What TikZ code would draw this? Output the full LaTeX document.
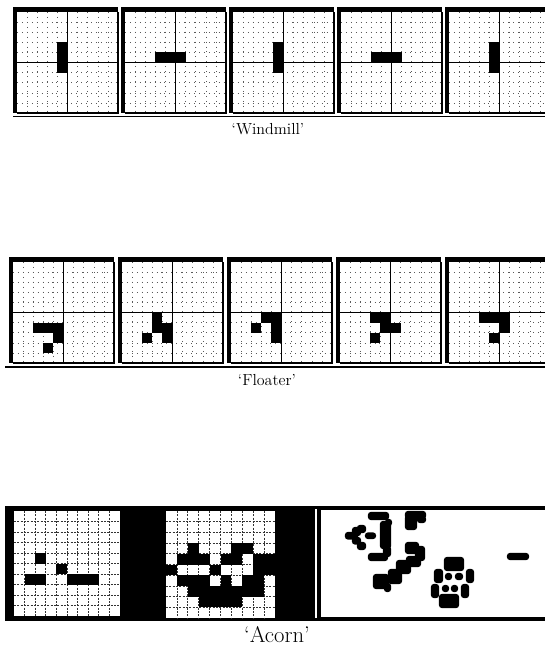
\documentclass[tikz,border=0pt]{standalone}
\usepackage{tikz}
\tikzset{
  gridline/.style={black!65, line width=0.45pt, dash pattern=on 0.5pt off 3.2pt},
  axisline/.style={black, line width=0.8pt},
  rimline/.style={black, line width=0.9pt},
  lifecell/.style={fill=black},
  acorngrid/.style={black!80, line width=0.6pt, dash pattern=on 1.5pt off 1pt},
  blob/.style={fill=black, draw=black, line width=1.6pt, rounded corners=1.5pt},
  caption/.style={font=\fontsize{12}{14}\selectfont, inner sep=0pt},
}
% one generation on a 10x10 board: x, y, cell size, list of col/row
\newcommand{\lifepanel}[4]{%
  \begin{scope}[shift={(#1,#2)}]
    \foreach \k in {1,...,9} {
      \draw[gridline] (\k*#3,0) -- (\k*#3,10*#3);
      \draw[gridline] (0,\k*#3) -- (10*#3,\k*#3);
    }
    \draw[axisline] (5*#3,0) -- (5*#3,10*#3);
    \draw[axisline] (0,5*#3) -- (10*#3,5*#3);
    \foreach \cx/\cy in {#4}
      \fill[lifecell] (\cx*#3,\cy*#3) rectangle ++(#3,#3);
    \draw[rimline] (0,10*#3) -- (10*#3,10*#3) -- (10*#3,0);
    \fill (-4,10*#3) rectangle (0,-5);
    \fill (-4,-5) rectangle (10*#3,0);
  \end{scope}}
% white board with black cells: x, y, cell width, cell height, cells
\newcommand{\acornpanel}[5]{%
  \begin{scope}[shift={(#1,#2)}]
    \fill[white] (0,0) rectangle (10*#3,10*#4);
    \foreach \k in {1,...,9} {
      \draw[acorngrid] (\k*#3,0) -- (\k*#3,10*#4);
      \draw[acorngrid] (0,\k*#4) -- (10*#3,\k*#4);
    }
    \foreach \cx/\cy in {#5}
      \fill[lifecell] (\cx*#3,\cy*#4) rectangle ++(#3,#4);
  \end{scope}}

\begin{document}
\begin{tikzpicture}[x=0.75pt, y=-0.75pt]
\useasboundingbox (0,0) rectangle (545,646);
\clip (0,0) rectangle (545,646);

% windmill
\foreach \i in {0,2,4}
  \lifepanel{17+108*\i}{12}{10.1}{4/3,4/4,4/5};
\foreach \i in {1,3}
  \lifepanel{17+108*\i}{12}{10.1}{3/4,4/4,5/4};
\draw[rimline] (13,116.5) -- (545,116.5);
\node[caption] (windmill) at (268,129) {‘Windmill’};

% floater
\lifepanel{13}{262}{10.1}{2/6,3/6,4/6,4/7,3/8}
\lifepanel{122}{262}{10.1}{3/5,3/6,4/6,2/7,4/7}
\lifepanel{231}{262}{10.1}{3/5,4/5,2/6,4/6,4/7}
\lifepanel{340}{262}{10.1}{3/5,4/5,4/6,5/6,3/7}
\lifepanel{449}{262}{10.1}{3/5,4/5,5/5,5/6,4/7}
\draw[black, line width=2pt] (5,367) -- (545,367);
\node[caption] (floater) at (267,380) {‘Floater’};

% acorn
\fill (5,506) rectangle (545,621);
\acornpanel{14}{511}{10.6}{10.5}{2/4,4/5,1/6,2/6,5/6,6/6,7/6}
\acornpanel{166}{511}{10.9}{10.7}{2/3,6/3,7/3,
  1/4,2/4,3/4,5/4,6/4,8/4,9/4,
  0/5,4/5,8/5,9/5,
  1/6,2/6,3/6,5/6,7/6,8/6,
  2/7,3/7,4/7,5/7,6/7,7/7,8/7,
  3/8,4/8,5/8,6/8}
\fill[white] (321,510) rectangle (545,617);
\draw[white, line width=0.8pt] (316,509) -- (316,618);
% later generation
\fill[blob] (358,526) rectangle (365,532);
\fill[blob] (353,528) rectangle (360,535);
\fill[blob] (346,533) rectangle (357,538.5);
\fill[blob] (353,538) rectangle (360,543.5);
\fill[blob] (358,543) rectangle (365,549);
\fill[blob] (366,533.5) rectangle (375,538);
\fill[blob] (369,513) rectangle (388,519);
\fill[blob] (381,522) rectangle (390,548);
\fill[blob] (386,520) rectangle (391,525);
\fill[blob] (369,554) rectangle (387,560);
\fill[blob] (384,547) rectangle (390,556);
\fill[blob] (406,512) rectangle (425,518);
\fill[blob] (406,516) rectangle (416,529);
\fill[blob] (418,517) rectangle (425,522);
\fill[blob] (406,543) rectangle (418,553);
\fill[blob] (416,547) rectangle (424,560);
\fill[blob] (407,557) rectangle (420,566);
\fill[blob] (397,561) rectangle (410,573);
\fill[blob] (389,570) rectangle (401,583);
\fill[blob] (374,575) rectangle (388,588);
\fill[blob] (385,584) rectangle (390,591);
\fill[blob] (445,558) rectangle (463,570);
\fill[blob] (435,570) rectangle (442,582);
\fill[blob] (446,574) rectangle (451,579);
\fill[blob] (456,574) rectangle (462,579);
\fill[blob] (467,570) rectangle (473,582);
\fill[blob] (432,585) rectangle (438,597);
\fill[blob] (443,586) rectangle (448,591);
\fill[blob] (452,586) rectangle (457,591);
\fill[blob] (462,585) rectangle (468,597);
\fill[blob] (440,595) rectangle (458,607);
\fill[blob] (508,554) rectangle (528,559);
\node[caption, font=\fontsize{17}{20}\selectfont] (acorn) at (277,635) {‘Acorn’};
\end{tikzpicture}
\end{document}
